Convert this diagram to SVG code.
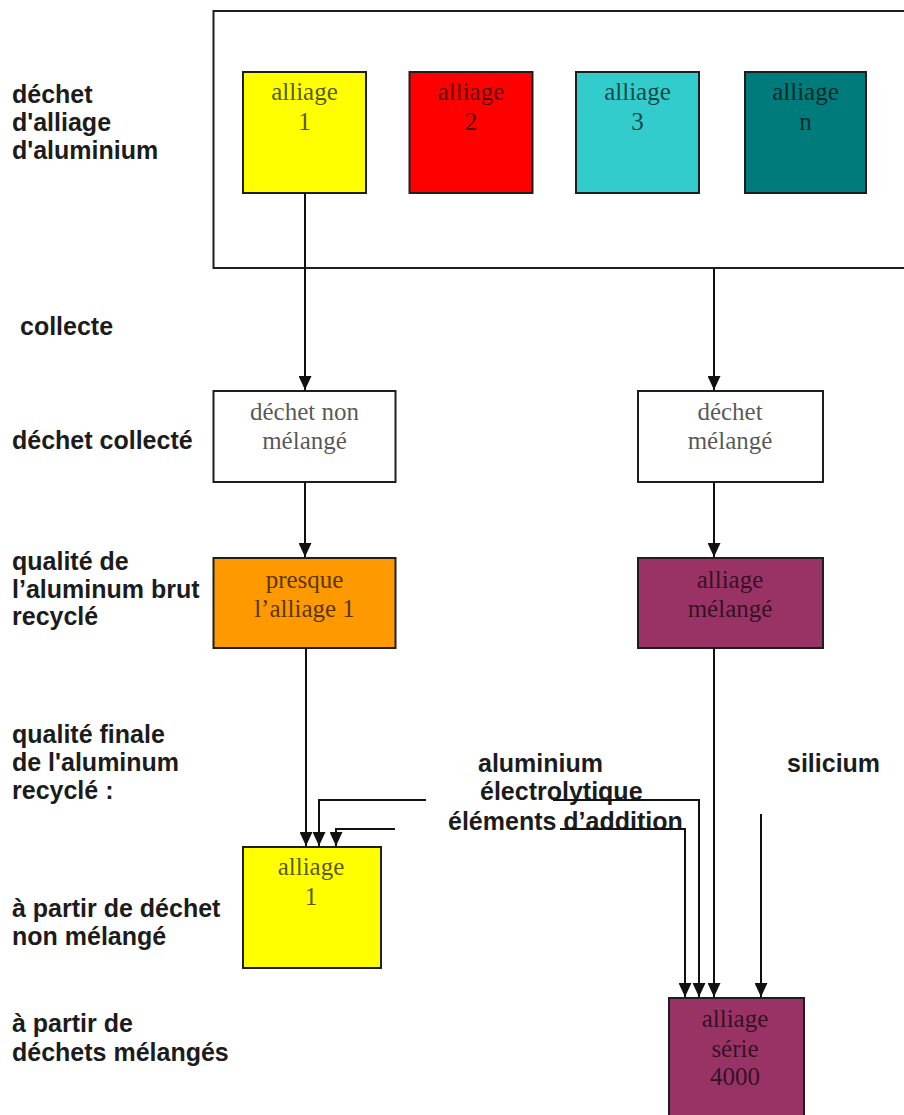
<svg xmlns="http://www.w3.org/2000/svg" width="904" height="1115" viewBox="0 0 904 1115">
  <style>
    .box { stroke: #1e1e1e; stroke-width: 2; }
    .in { font-family: "Liberation Serif", "Times New Roman", serif; font-size: 25px; fill: #000; fill-opacity: 0.68; text-anchor: middle; }
    .lbl { font-family: "Liberation Sans", Arial, sans-serif; font-size: 25px; font-weight: bold; fill: #1c1c1c; }
    .wire { fill: none; stroke: #111; stroke-width: 2; }
  </style>
  <defs>
    <marker id="arrow" viewBox="0 0 14 13" refX="14" refY="6.5" markerWidth="14" markerHeight="13" markerUnits="userSpaceOnUse" orient="auto">
      <path d="M0,0 L14,6.5 L0,13 Z" fill="#111"/>
    </marker>
  </defs>
  <rect width="904" height="1115" fill="#fff"/>

  <!-- stage labels on the left -->
  <g id="labels">
    <text class="lbl" x="12" y="103">déchet</text>
    <text class="lbl" x="12" y="131">d'alliage</text>
    <text class="lbl" x="12" y="159">d'aluminium</text>
    <text class="lbl" x="20" y="335">collecte</text>
    <text class="lbl" x="12" y="449">déchet collecté</text>
    <text class="lbl" x="12" y="570">qualité de</text>
    <text class="lbl" x="12" y="598">l’aluminum brut</text>
    <text class="lbl" x="12" y="625">recyclé</text>
    <text class="lbl" x="12" y="743">qualité finale</text>
    <text class="lbl" x="12" y="771">de l'aluminum</text>
    <text class="lbl" x="12" y="799">recyclé :</text>
    <text class="lbl" x="12" y="917">à partir de déchet</text>
    <text class="lbl" x="12" y="945">non mélangé</text>
    <text class="lbl" x="12" y="1032">à partir de</text>
    <text class="lbl" x="12" y="1061">déchets mélangés</text>
  </g>

  <!-- scrap container -->
  <g id="scrap">
    <rect class="box" x="213.5" y="11" width="700" height="257" fill="#fff"/>
  </g>

  <g id="alloy1">
    <rect class="box" x="243" y="72" width="123" height="121" fill="#ffff00"/>
    <text class="in" x="304.5" y="100">alliage</text>
    <text class="in" x="304.5" y="130">1</text>
  </g>
  <g id="alloy2">
    <rect class="box" x="409.5" y="72" width="123" height="121" fill="#ff0000"/>
    <text class="in" x="471" y="100">alliage</text>
    <text class="in" x="471" y="130">2</text>
  </g>
  <g id="alloy3">
    <rect class="box" x="576" y="72" width="123" height="121" fill="#33cccc"/>
    <text class="in" x="637.5" y="100">alliage</text>
    <text class="in" x="637.5" y="130">3</text>
  </g>
  <g id="alloyN">
    <rect class="box" x="745" y="72" width="121" height="121" fill="#007b7b"/>
    <text class="in" x="805.5" y="100">alliage</text>
    <text class="in" x="805.5" y="130">n</text>
  </g>

  <g id="unmixed">
    <rect class="box" x="213.5" y="391" width="182" height="91" fill="#fff"/>
    <text class="in" x="304.5" y="420">déchet non</text>
    <text class="in" x="304.5" y="449">mélangé</text>
  </g>
  <g id="mixed">
    <rect class="box" x="638" y="391" width="185" height="91" fill="#fff"/>
    <text class="in" x="730" y="420">déchet</text>
    <text class="in" x="730" y="449">mélangé</text>
  </g>

  <g id="nearAlloy1">
    <rect class="box" x="213.5" y="558" width="182" height="90" fill="#ff9900"/>
    <text class="in" x="304.5" y="588">presque</text>
    <text class="in" x="304.5" y="617">l’alliage 1</text>
  </g>
  <g id="mixedAlloy">
    <rect class="box" x="638" y="558" width="185" height="90" fill="#993366"/>
    <text class="in" x="730" y="588">alliage</text>
    <text class="in" x="730" y="617">mélangé</text>
  </g>

  <g id="additions">
    <text class="lbl" x="478" y="772">aluminium</text>
    <text class="lbl" x="480" y="800">électrolytique</text>
    <text class="lbl" x="448" y="830">éléments d’addition</text>
  </g>
  <g id="silicon">
    <text class="lbl" x="787" y="772">silicium</text>
  </g>

  <g id="finalAlloy1">
    <rect class="box" x="243" y="847" width="138" height="121" fill="#ffff00"/>
    <text class="in" x="311" y="875">alliage</text>
    <text class="in" x="311" y="905">1</text>
  </g>
  <g id="series4000">
    <rect class="box" x="669" y="998" width="135" height="125" fill="#993366"/>
    <text class="in" x="735" y="1027">alliage</text>
    <text class="in" x="735" y="1057">série</text>
    <text class="in" x="735" y="1085">4000</text>
  </g>

  <!-- connectors -->
  <g id="connectors">
    <path class="wire" d="M305,193 V390" marker-end="url(#arrow)"/>
    <path class="wire" d="M714,268 V390" marker-end="url(#arrow)"/>
    <path class="wire" d="M305,482 V557" marker-end="url(#arrow)"/>
    <path class="wire" d="M714,482 V557" marker-end="url(#arrow)"/>
    <path class="wire" d="M306,648 V846" marker-end="url(#arrow)"/>
    <path class="wire" d="M426,800 H319 V846" marker-end="url(#arrow)"/>
    <path class="wire" d="M395,829 H336 V846" marker-end="url(#arrow)"/>
    <path class="wire" d="M714,648 V997" marker-end="url(#arrow)"/>
    <path class="wire" d="M553,800 H699 V997" marker-end="url(#arrow)"/>
    <path class="wire" d="M560,829 H685 V997" marker-end="url(#arrow)"/>
    <path class="wire" d="M761,814 V997" marker-end="url(#arrow)"/>
  </g>
</svg>
